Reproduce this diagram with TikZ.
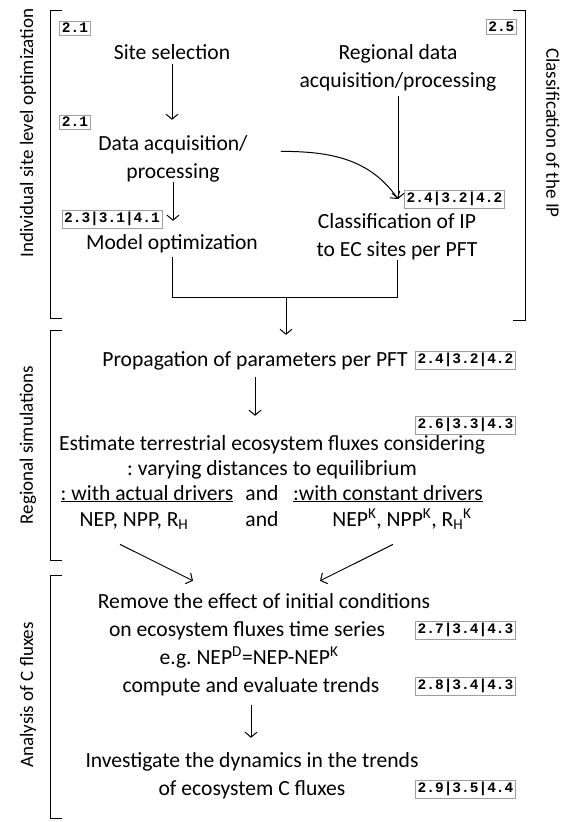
\documentclass[tikz,border=0pt]{standalone}
\usepackage{fontspec}
\setmainfont{Carlito}
\newfontfamily\tagfamily{Liberation Mono}
\usetikzlibrary{arrows.meta}
\newcommand{\mainsize}{\fontsize{21.6}{28}\selectfont}
\frenchspacing

\begin{document}
\begin{tikzpicture}[x=1pt,y=1pt,
  txt/.style={font=\mainsize,align=center,inner sep=0pt,anchor=base},
  ref/.style={draw=gray!75,line width=0.8pt,font=\tagfamily\bfseries\fontsize{14.5}{15}\selectfont,inner sep=2.2pt},
  sec/.style={font=\fontsize{19}{20}\selectfont,inner sep=0pt},
  flow/.style={line width=1pt,-{Straight Barb[length=5pt,width=12pt]}},
  brk/.style={line width=1pt}]
\useasboundingbox (0,0) rectangle (583,-822);

%brackets
\draw [brk] (62,-10) -- (50,-10) -- (50,-318) -- (62,-318);
\draw [brk] (513,-10) -- (525,-10) -- (525,-320) -- (513,-320);
\draw [brk] (62,-330) -- (50,-330) -- (50,-560) -- (62,-560);
\draw [brk] (62,-575) -- (50,-575) -- (50,-818) -- (62,-818);
\node [sec,rotate=90] (lindiv) at (28,-133) {Individual site level optimization};
\node [sec,rotate=-90] (lclass) at (553,-133) {Classification of the IP};
\node [sec,rotate=90] (lregion) at (28,-445) {Regional simulations};
\node [sec,rotate=90] (lanalysis) at (28,-695) {Analysis of C fluxes};

%site level
\node [txt] (site) at (172,-59) {Site selection};
\node [txt] (dacq) at (173,-178) {Data acquisition/\\processing};
\node [txt] (model) at (172,-249) {Model optimization};
\node [ref] (t21a) at (75,-28) {2.1};
\node [ref] (t21b) at (75,-122) {2.1};
\node [ref] (t23) at (112,-219) {2.3|3.1|4.1};

%classification
\node [txt] (regdata) at (398,-87) {Regional data\\acquisition/processing};
\node [txt] (classif) at (397,-256) {Classification of IP\\to EC sites per PFT};
\node [ref,anchor=east] (t25) at (517,-27) {2.5};
\node [ref,anchor=west] (t24a) at (404,-199) {2.4|3.2|4.2};

\draw [flow,shorten <=5pt,shorten >=15pt] (site.south) -- (site.south |- dacq.north);
\draw [flow,shorten >=13pt] (dacq.south) -- (dacq.south |- model.north);
\draw [flow,shorten <=5pt] (regdata.south) -- (regdata.south |- t24a.west);
\draw [flow] ([xshift=33pt,yshift=7pt]dacq.east) to[out=0,in=125] (regdata.south |- t24a.west);

%merge
\coordinate (merge) at (286,-297);
\draw [brk,shorten <=4pt] (model.south) |- (merge);
\draw [brk] (merge) -| (classif.south);

%regional simulations
\node [txt] (prop) at (255,-366) {Propagation of parameters per PFT};
\node [ref,anchor=east] (t24b) at (516,-360) {2.4|3.2|4.2};
\draw [flow,shorten >=16pt] (merge) -- (merge |- prop.north);
\node [ref,anchor=east] (t26) at (516,-425) {2.6|3.3|4.3};
\node [txt] (estim) at (272,-450) {Estimate terrestrial ecosystem fluxes considering};
\node [txt] (vary) at (272,-475) {: varying distances to equilibrium};
\node [txt] (actual) at (147,-500) {\underline{: with actual drivers}};
\node [txt] (and1) at (262,-500) {and};
\node [txt] (const) at (388,-500) {\underline{:with constant drivers}};
\node [txt] (fluxa) at (134,-526) {NEP, NPP, R\textsubscript{H}};
\node [txt] (and2) at (262,-526) {and};
\node [txt] (fluxk) at (402,-526) {NEP\textsuperscript{K}, NPP\textsuperscript{K}, R\textsubscript{H}\textsuperscript{K}};
\draw [flow,shorten <=7pt,shorten >=19pt] (prop.south) -- (prop.south |- estim.north);

%analysis
\node [txt] (remove) at (264,-608) {Remove the effect of initial conditions};
\node [txt] (onseries) at (247,-636) {on ecosystem fluxes time series};
\node [txt] (eg) at (249,-664) {e.g. NEP\textsuperscript{D}=NEP-NEP\textsuperscript{K}};
\node [txt] (trends) at (251,-692) {compute and evaluate trends};
\node [ref,anchor=east] (t27) at (516,-630) {2.7|3.4|4.3};
\node [ref,anchor=east] (t28) at (516,-686) {2.8|3.4|4.3};
\node [txt] (invest) at (252,-767) {Investigate the dynamics in the trends};
\node [txt] (ofc) at (252,-795) {of ecosystem C fluxes};
\node [ref,anchor=east] (t29) at (516,-789) {2.9|3.5|4.4};
\draw [flow] ([xshift=-14pt,yshift=-15pt]fluxa.south) -- ([xshift=-71pt,yshift=12pt]remove.north);
\draw [flow] ([xshift=-9pt,yshift=-15pt]fluxk.south) -- ([xshift=56pt,yshift=12pt]remove.north);
\draw [flow,shorten <=9pt,shorten >=14pt] (trends.south) -- (trends.south |- invest.north);
\end{tikzpicture}
\end{document}
